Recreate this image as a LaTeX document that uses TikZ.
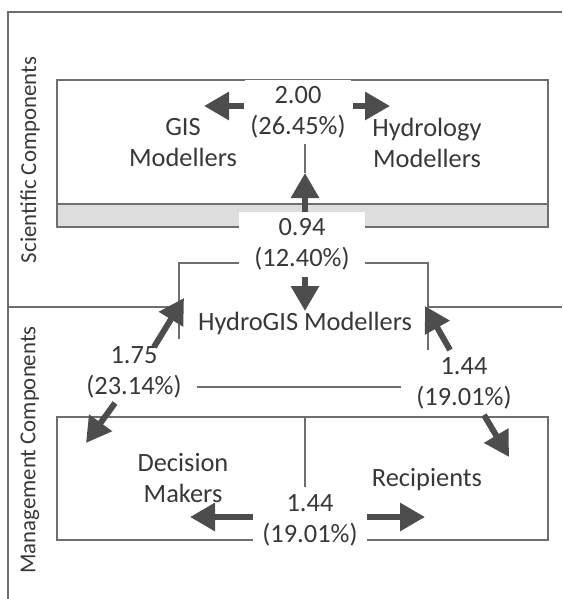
\documentclass[tikz,border=0pt]{standalone}
\usepackage{fontspec}
\setmainfont{Carlito}
\usetikzlibrary{arrows.meta}
\definecolor{txt}{HTML}{383838}
\definecolor{ln}{HTML}{6E6E6E}
\definecolor{arr}{HTML}{4D4D4D}
\definecolor{band}{HTML}{DDDDDD}
\newcommand{\fsmain}{\fontsize{13.2pt}{15.5pt}\selectfont}
\newcommand{\fsside}{\fontsize{11.4pt}{13pt}\selectfont}
\begin{document}
\begin{tikzpicture}[x=0.5pt,y=-0.5pt,
  thinline/.style={draw=ln, line width=1pt},
  bigarrow/.style={draw=arr, line width=3pt, -{Triangle[length=12.5pt,width=13.5pt,fill=arr]}},
  lab/.style={fill=white, align=center, inner sep=0pt, text=txt, font=\fsmain},
  txtnode/.style={align=center, inner sep=0pt, text=txt, font=\fsmain},
  side/.style={rotate=90, inner sep=0pt, text=txt, font=\fsside}]
\useasboundingbox (0,0) rectangle (562,599);
% outer frame and divider
\draw[thinline] (562,12) -- (8,12) -- (8,599);
\draw[thinline] (8,307) -- (562,307);
% scientific box
\draw[thinline, fill=band] (57,204) rectangle (548,227);
\draw[thinline] (57,80) rectangle (548,227);
% HydroGIS box
\node[draw=ln, line width=1pt, fill=white, minimum width=124.5pt, minimum height=62pt, inner sep=0pt] (hbox) at (303.5,325) {};
% management box
\draw[thinline] (57,417) rectangle (548,540);
\coordinate (mtop) at (305,417);
\coordinate (mbot) at (305,487);
\draw[thinline] (mtop) -- (mbot);
% side labels
\node[side] (sci) at (30,160) {Scientific Components};
\node[side] (mgmt) at (30,450) {Management Components};
% text nodes
\node[txtnode] (gis) at (183,143) {GIS\\Modellers};
\node[txtnode] (hyd) at (427,143) {Hydrology\\Modellers};
\node[txtnode] (hgm) at (305,323) {HydroGIS Modellers};
\node[txtnode] (dm) at (183,478) {Decision\\Makers};
\node[txtnode] (rec) at (427,480) {Recipients};
% labels with white background
\node[lab, minimum width=53pt, minimum height=32pt] (l200) at (298,112) {2.00\\(26.45\%)};
\node[lab, minimum width=63pt, minimum height=32pt] (l094) at (302,244) {0.94\\(12.40\%)};
\node[lab, minimum width=63pt, minimum height=33pt] (l175) at (134,372) {1.75\\(23.14\%)};
\node[lab, minimum width=63pt, minimum height=33pt] (l144a) at (464,383) {1.44\\(19.01\%)};
\node[lab, minimum width=57pt, minimum height=32pt] (l144b) at (310,520) {1.44\\(19.01\%)};
% arrow end points
\coordinate (a1s) at (244,106); \coordinate (a1e) at (204,106);
\coordinate (a2s) at (353,106); \coordinate (a2e) at (390,106);
\coordinate (vtop) at (305,144);
\coordinate (a3s) at (305,212); \coordinate (a3e) at (305,173);
\coordinate (a4s) at (305,277); \coordinate (a4e) at (305,311);
\coordinate (a5s) at (154,347); \coordinate (a5e) at (184,298);
\coordinate (a6s) at (450,350); \coordinate (a6e) at (425,306);
\coordinate (a7s) at (115,403); \coordinate (a7e) at (86,443);
\coordinate (a8s) at (484,415); \coordinate (a8e) at (509,457);
\coordinate (a9s) at (253,517); \coordinate (a9e) at (190,517);
\coordinate (a10s) at (367,517); \coordinate (a10e) at (425,517);
% thin connector
\draw[thinline] (vtop) -- (a3e);
% arrows
\draw[bigarrow] (a1s) -- (a1e);
\draw[bigarrow] (a2s) -- (a2e);
\draw[bigarrow] (a3s) -- (a3e);
\draw[bigarrow] (a4s) -- (a4e);
\draw[bigarrow] (a5s) -- (a5e);
\draw[bigarrow] (a6s) -- (a6e);
\draw[bigarrow] (a7s) -- (a7e);
\draw[bigarrow] (a8s) -- (a8e);
\draw[bigarrow] (a9s) -- (a9e);
\draw[bigarrow] (a10s) -- (a10e);
\end{tikzpicture}
\end{document}
